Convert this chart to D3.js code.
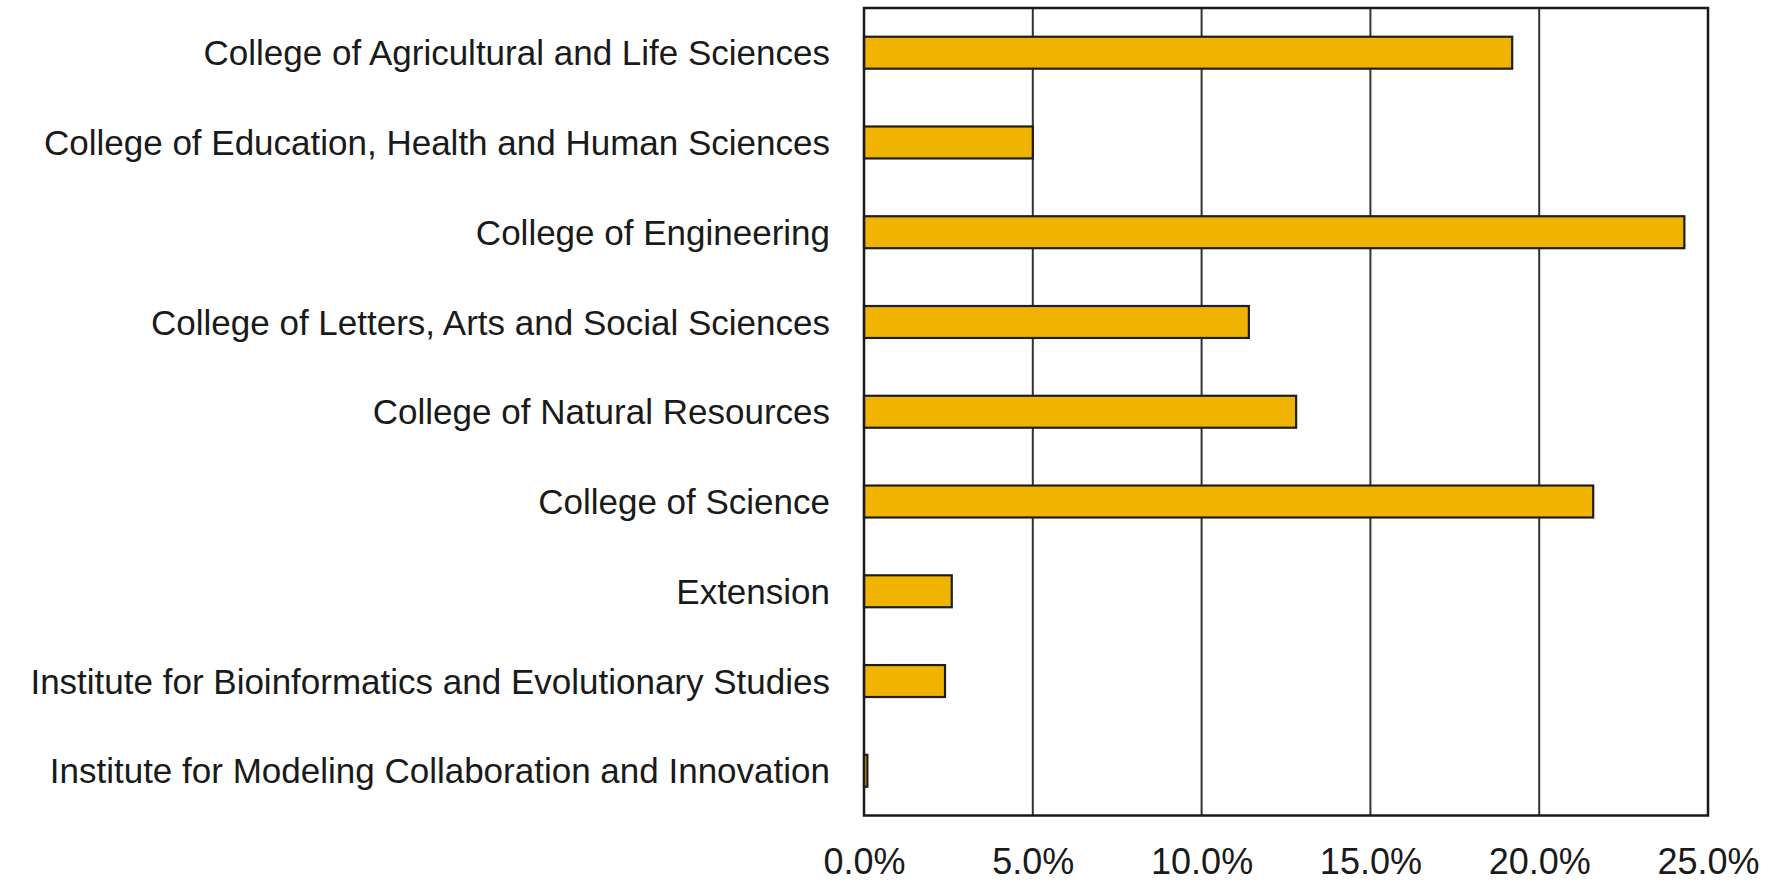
<!DOCTYPE html>
<meta charset="utf-8">
<style>
  body { margin: 0; background: #fff; }
</style>
<body>
<script src="https://cdn.jsdelivr.net/npm/d3@7"></script>
<div id="chart"></div>
<script>

 var colleges = [
     "College of Agricultural and Life Sciences",
     "College of Education, Health and Human Sciences",
     "College of Engineering",
     "College of Letters, Arts and Social Sciences",
     "College of Natural Resources",
     "College of Science",
     "Extension",
     "Institute for Bioinformatics and Evolutionary Studies",
     "Institute for Modeling Collaboration and Innovation"
 ];
 var share = [19.2, 5.0, 24.3, 11.4, 12.8, 21.6, 2.6, 2.4, 0.1];
 var ticks = [0, 5, 10, 15, 20, 25];

 var width = 1781;
 var height = 881;
 var margin = {top: 8, right: 73, bottom: 65.5, left: 864};

 const svg = d3.select('#chart').append('svg')
               .attr('width', width)
               .attr('height', height);

 const g = svg.append('g')
              .attr('transform', `translate(${margin.left},${margin.top})`);

 var w = width - margin.left - margin.right;
 var h = height - margin.top - margin.bottom;

 var x = d3.scaleLinear()
           .domain([0, 25])
           .range([0, w]);

 var y = d3.scaleBand()
           .domain(colleges)
           .range([0, h])
           .paddingInner(0.644)
           .paddingOuter(0.32);

 // vertical grid lines
 g.append('g')
  .selectAll('line')
  .data(ticks.slice(1, -1))
  .enter()
  .append('line')
  .attr('x1', d => x(d))
  .attr('x2', d => x(d))
  .attr('y1', 0)
  .attr('y2', h)
  .attr('stroke', '#333')
  .attr('stroke-width', 2);

 g.append('g')
  .selectAll('rect')
  .data(share)
  .enter()
  .append('rect')
  .attr('x', x(0))
  .attr('y', (d, i) => y(colleges[i]))
  .attr('width', d => x(d) - x(0))
  .attr('height', y.bandwidth())
  .attr('fill', '#f0b400')
  .attr('stroke', '#1e1e1e')
  .attr('stroke-width', 2.2);

 // frame round the plot
 g.append('rect')
  .attr('x', 0)
  .attr('y', 0)
  .attr('width', w)
  .attr('height', h)
  .attr('fill', 'none')
  .attr('stroke', '#1a1a1a')
  .attr('stroke-width', 2.5);

 var xAxis = g.append('g')
              .attr('transform', `translate(0,${h})`)
              .call(d3.axisBottom(x)
                      .tickValues(ticks)
                      .tickSize(0)
                      .tickPadding(33)
                      .tickFormat(d => d.toFixed(1) + '%'));
 xAxis.select('.domain').remove();
 xAxis.selectAll('text')
      .attr('fill', '#1a1a1a')
      .style('font-family', '"Liberation Sans", Arial, sans-serif')
      .style('font-size', '36px');

 var yAxis = g.append('g')
              .call(d3.axisLeft(y)
                      .tickSize(0)
                      .tickPadding(34));
 yAxis.select('.domain').remove();
 yAxis.selectAll('text')
      .attr('fill', '#1a1a1a')
      .attr('dy', '0.36em')
      .style('font-family', '"Liberation Sans", Arial, sans-serif')
      .style('font-size', '35px');

</script>
